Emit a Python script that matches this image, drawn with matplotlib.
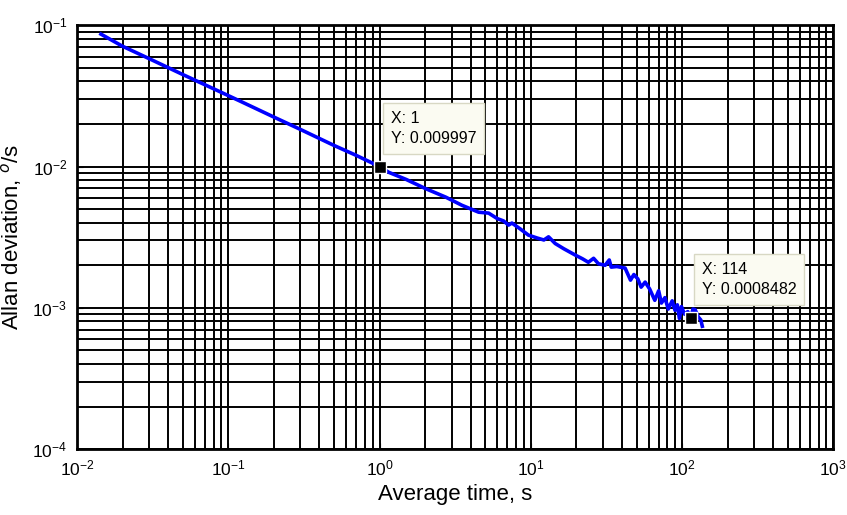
import matplotlib
matplotlib.use("Agg")
import matplotlib.pyplot as plt
import numpy as np

plt.rcParams['font.family'] = ['Liberation Sans', 'DejaVu Sans']

# Allan deviation
tau = [0.0144, 0.02, 0.03, 0.05, 0.08, 0.12, 0.2, 0.3, 0.5, 0.7, 1.0,
       1.15, 1.5, 2.0, 2.74, 3.5, 4.52, 5.26, 6.0, 6.6, 7.13, 7.5, 8.5,
       9.64, 11.0, 12.2, 13.1, 14.5, 16.5, 19.7, 22.0, 24.0, 26.0, 28.0,
       31.0, 33.0, 34.0, 37.0, 42.0, 45.6, 48.0, 51.0, 53.6, 57.0, 61.0,
       66.0, 70.0, 73.0, 77.0, 81.0, 86.0, 89.8, 93.0, 96.0, 99.0, 104.0,
       109.0, 114.0, 118.0, 122.0, 128.0, 133.0, 136.0]
adev = [0.0865, 0.0710, 0.0580, 0.0448, 0.0355, 0.0290, 0.0224, 0.0183,
        0.0141, 0.0120, 0.009997, 0.0091, 0.0081, 0.0070, 0.00607, 0.00532,
        0.00475, 0.00468, 0.00428, 0.00412, 0.00385, 0.00398, 0.00362,
        0.00327, 0.00312, 0.00302, 0.00318, 0.00285, 0.00262, 0.00236,
        0.00222, 0.00210, 0.00224, 0.00205, 0.00200, 0.00218, 0.00194,
        0.00196, 0.00191, 0.00157, 0.00172, 0.00160, 0.00140, 0.00152,
        0.00136, 0.00113, 0.00132, 0.00108, 0.00118, 0.00098, 0.00112,
        0.00096, 0.00105, 0.00084, 0.00102, 0.00090, 0.00094, 0.0008482,
        0.00098, 0.00097, 0.00086, 0.00082, 0.00074]

tips = [(1, 0.009997), (114, 0.0008482)]
tip_text = ['X: 1\nY: 0.009997', 'X: 114\nY: 0.0008482']

fig = plt.figure(figsize=(8.47, 5.15), dpi=100)
ax = fig.add_axes([0.0909, 0.128, 0.893, 0.823])

ax.loglog(tau, adev, color=(0, 0, 1), lw=2.6)
ax.set_xlim(1e-2, 1e3)
ax.set_ylim(1e-4, 1e-1)

ax.grid(True, which='major', color='black', lw=1.4)
ax.grid(True, which='minor', color='black', lw=1.4)
ax.tick_params(which='both', direction='in', labelsize=12.5, color='black')
ax.tick_params(which='major', length=4, pad=7)
ax.tick_params(which='minor', length=2)
for s in ax.spines.values():
    s.set_linewidth(2)

ax.set_xlabel('Average time, s', fontsize=16, labelpad=4)
ax.set_ylabel('Allan deviation, $^o$/s', fontsize=16, labelpad=6)

# data tips
for (x, y), txt in zip(tips, tip_text):
    ax.plot([x], [y], 's', color='black', ms=9, mec='white', mew=1, zorder=5)
    ax.annotate(txt, (x, y), xytext=(8, 15), textcoords='offset points',
                fontsize=11.5, va='bottom', ha='left', zorder=6,
                linespacing=1.4,
                bbox=dict(boxstyle='square,pad=0.5', fc='#fbfbf2',
                          ec='#d8d8c4', lw=1))

fig.savefig('out.png', dpi=100)
